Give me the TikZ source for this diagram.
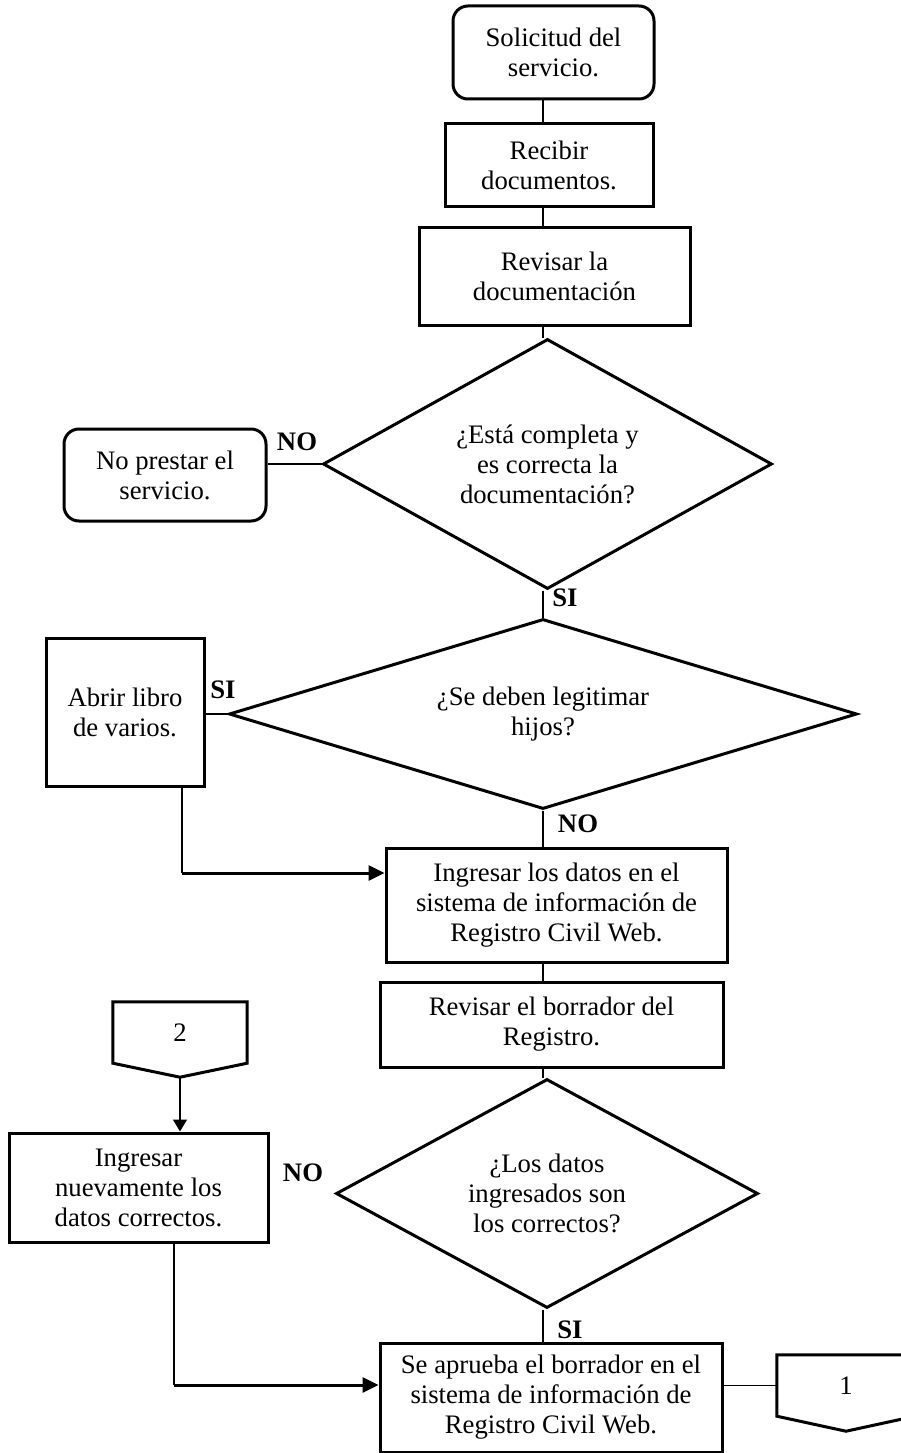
\documentclass[tikz,border=0pt]{standalone}
\usepackage{fontspec}
\setmainfont{Liberation Serif}
\usetikzlibrary{shapes.geometric,arrows.meta}

\begin{document}
\begin{tikzpicture}[x=1pt, y=1pt,
    every node/.style={font=\fontsize{26.7}{30}\selectfont, align=center},
    proceso/.style={draw, line width=3pt, inner sep=0pt},
    inicio/.style={proceso, rounded corners=15pt},
    decision/.style={diamond, draw, line width=3pt, inner sep=0pt},
    conector/.style={inner sep=0pt, minimum height=61pt},
    borde/.style={line width=3pt, line join=miter},
    linea/.style={line width=1.4pt},
    flecha/.style={line width=3pt, -{Triangle[length=16pt,width=15pt]}},
    etiqueta/.style={font=\fontsize{26.7}{30}\selectfont\bfseries}]
      \useasboundingbox (0,0) rectangle (901,-1453);
      \clip (0,0) rectangle (901,-1453);

      \node[inicio, minimum width=201pt, minimum height=93pt] (solicitud) at (553.5,-52.5) {Solicitud del\\servicio.};
      \node[proceso, minimum width=208pt, minimum height=82pt] (recibir) at (549,-165) {Recibir\\documentos.};
      \node[proceso, minimum width=271pt, minimum height=98pt] (revisar) at (554.5,-276) {Revisar la\\documentación};
      \node[decision, aspect=1.8, minimum width=449pt, minimum height=250pt] (completa) at (547.5,-464) {¿Está completa y\\es correcta la\\documentación?};
      \node[inicio, minimum width=202pt, minimum height=92pt] (noprestar) at (165,-475) {No prestar el\\servicio.};
      \node[decision, aspect=3.3, minimum width=628pt, minimum height=190pt] (legitimar) at (543,-714) {¿Se deben legitimar\\hijos?};
      \node[proceso, minimum width=158pt, minimum height=148pt] (abrir) at (125,-712) {Abrir libro\\de varios.};
      \node[proceso, minimum width=341pt, minimum height=114pt] (ingresar) at (556.5,-905) {Ingresar los datos en el\\sistema de información de\\Registro Civil Web.};
      \node[proceso, minimum width=343pt, minimum height=85pt] (borrador) at (551.5,-1024.5) {Revisar el borrador del\\Registro.};
      \node[decision, aspect=1.84, minimum width=422pt, minimum height=229pt] (correctos) at (547,-1193.5) {¿Los datos\\ingresados son\\los correctos?};
      \node[proceso, minimum width=259pt, minimum height=109pt] (nuevamente) at (138.5,-1187.5) {Ingresar\\nuevamente los\\datos correctos.};
      \node[proceso, minimum width=342pt, minimum height=109pt] (aprueba) at (551,-1397.5) {Se aprueba el borrador en el\\sistema de información de\\Registro Civil Web.};

      % conectores de pagina
      \node[conector, minimum width=134pt] (pag2) at (180,-1032.5) {2};
      \coordinate (pag2p) at ([yshift=-14pt]pag2.south);
      \draw[borde] (pag2.north west) -- (pag2.north east) -- (pag2.south east) -- (pag2p) -- (pag2.south west) -- cycle;
      \node[conector, minimum width=138pt] (pag1) at (846,-1385.5) {1};
      \coordinate (pag1p) at ([yshift=-15pt]pag1.south);
      \draw[borde] (pag1.north west) -- (pag1.north east) -- (pag1.south east) -- (pag1p) -- (pag1.south west) -- cycle;

      % etiquetas
      \node[etiqueta] (no1) at (297,-442) {NO};
      \node[etiqueta] (si1) at (565,-598) {SI};
      \node[etiqueta] (si2) at (223,-690) {SI};
      \node[etiqueta] (no2) at (578,-824) {NO};
      \node[etiqueta] (no3) at (303,-1173) {NO};
      \node[etiqueta] (si3) at (570,-1330) {SI};

      \coordinate (eje) at (543,0);
      \coordinate (codo1) at (182,-873);
      \coordinate (codo2) at (174,-1385);

      \draw[linea] (solicitud.south -| eje) -- (recibir.north -| eje);
      \draw[linea] (recibir.south -| eje) -- (revisar.north -| eje);
      \draw[linea] (revisar.south -| eje) -- (completa.north -| eje);
      \draw[linea] (completa.west) -- (noprestar.east |- completa.west);
      \draw[linea] (completa.south -| eje) -- (legitimar.north);
      \draw[linea] (legitimar.west) -- (abrir.east |- legitimar.west);
      \draw[linea] (legitimar.south) -- (ingresar.north -| legitimar.south);
      \draw[linea] (abrir.south -| codo1) -- (codo1);
      \draw[flecha] (codo1) -- (codo1 -| ingresar.west);
      \draw[linea] (ingresar.south -| eje) -- (borrador.north -| eje);
      \draw[linea] (borrador.south -| eje) -- (correctos.north -| eje);
      \draw[linea] (correctos.south -| eje) -- (aprueba.north -| eje);
      \draw[linea, -{Triangle[length=12pt,width=14pt]}] (pag2p) -- (pag2p |- nuevamente.north);
      \draw[linea] (nuevamente.south -| codo2) -- (codo2);
      \draw[flecha] (codo2) -- (codo2 -| aprueba.west);
      \draw[linea] (pag1.west -| aprueba.east) -- (pag1.west);
    \end{tikzpicture}
\end{document}
